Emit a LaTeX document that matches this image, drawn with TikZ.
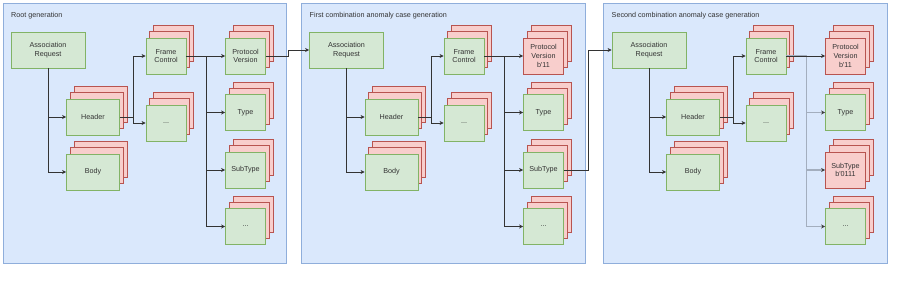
\documentclass[tikz,border=0pt]{standalone}
\usepackage{fontspec}
\setmainfont{Liberation Sans}
\usepackage{xcolor}
\usetikzlibrary{arrows.meta, shadows}

\definecolor{panelfill}{HTML}{DAE8FC}
\definecolor{panelline}{HTML}{8FAEDB}
\definecolor{okfill}{HTML}{D5E8D4}
\definecolor{okline}{HTML}{82B366}
\definecolor{badfill}{HTML}{F8CECC}
\definecolor{badline}{HTML}{B85450}
\definecolor{txt}{HTML}{333333}
\definecolor{trunk}{HTML}{A3AEBE}

\begin{document}
\begin{tikzpicture}[
  x=1pt, y=-1pt,
  font=\fontsize{7.2}{8.6}\selectfont, text=txt,
  panel/.style={draw=panelline, fill=panelfill, line width=0.8pt},
  ptitle/.style={anchor=west, inner sep=0pt},
  field/.style={rectangle, draw=okline, fill=okfill, line width=0.8pt,
                align=center, minimum width=40pt, minimum height=36pt,
                inner sep=1pt},
  wide/.style={field, minimum width=74pt},
  mid/.style={field, minimum width=53pt},
  stack/.style={
    general shadow={shadow scale=1, shadow xshift=7.4pt, shadow yshift=12.4pt,
                    opacity=1, fill=badfill, draw=badline},
    general shadow={shadow scale=1, shadow xshift=3.7pt, shadow yshift=6.2pt,
                    opacity=1, fill=badfill, draw=badline}},
  mutated/.style={draw=badline, fill=badfill},
  arr/.style={-{Stealth[length=4pt, width=4pt, inset=1.2pt]}, line width=0.7pt,
              draw=black!80},
  faint/.style={-{Stealth[length=4pt, width=4pt, inset=1.2pt, color=black!75]},
                line width=1.2pt, draw=trunk}
]
\useasboundingbox (0,0) rectangle (902,298);

% ----- Root generation -----
\begin{scope}
\draw[panel] (3,3) rectangle (286.5,263.5);
\node[ptitle] (t1) at (11,16) {Root generation};

\node[wide] (ar1) at (48,50) {Association\\Request};
\node[mid, stack] (hd1) at (93,117) {Header};
\node[mid, stack] (bd1) at (93,172) {Body};
\node[field, stack] (fc1) at (166,56) {Frame\\Control};
\node[field, stack] (fd1) at (166,123) {...};
\node[field, stack] (pv1) at (245.5,56) {Protocol\\Version};
\node[field, stack] (ty1) at (245.5,112.5) {Type};
\node[field, stack] (st1) at (245.5,170) {SubType};
\node[field, stack] (sd1) at (245.5,226.5) {...};
\end{scope}

% ----- First combination -----
\begin{scope}[xshift=298.5pt]
\draw[panel] (3,3) rectangle (286.5,263.5);
\node[ptitle] (t2) at (11,16) {First combination anomaly case generation};

\node[wide] (ar2) at (48,50) {Association\\Request};
\node[mid, stack] (hd2) at (93,117) {Header};
\node[mid, stack] (bd2) at (93,172) {Body};
\node[field, stack] (fc2) at (165.5,56) {Frame\\Control};
\node[field, stack] (fd2) at (165.5,123) {...};
\node[field, stack, mutated] (pv2) at (245,56)
  {Protocol\\Version\\b\textquotesingle 11};
\node[field, stack] (ty2) at (245,112.5) {Type};
\node[field, stack] (st2) at (245,170) {SubType};
\node[field, stack] (sd2) at (245,226.5) {...};
\end{scope}

% ----- Second combination -----
\begin{scope}[xshift=600.5pt]
\draw[panel] (3,3) rectangle (286.5,263.5);
\node[ptitle] (t3) at (11,16) {Second combination anomaly case generation};

\node[wide] (ar3) at (48.5,50) {Association\\Request};
\node[mid, stack] (hd3) at (92.5,117) {Header};
\node[mid, stack] (bd3) at (92.5,172) {Body};
\node[field, stack] (fc3) at (165.5,56) {Frame\\Control};
\node[field, stack] (fd3) at (165.5,123) {...};
\node[field, stack, mutated] (pv3) at (245,56)
  {Protocol\\Version\\b\textquotesingle 11};
\node[field, stack] (ty3) at (245,112.5) {Type};
\node[field, stack, mutated] (st3) at (245,170)
  {SubType\\b\textquotesingle 0111};
\node[field, stack] (sd3) at (245,226.5) {...};
\end{scope}

% ----- arrows -----
\draw[arr] (ar1.south) |- (hd1.west);
\draw[arr] (ar1.south) |- (bd1.west);
\draw[arr] (hd1.east) -- ++(13.5,0) |- (fc1.west);
\draw[arr] (hd1.east) -- ++(13.5,0) |- (fd1.west);
\draw[arr] (fc1.east) -- (pv1.west);
\draw[arr] (fc1.east) -- ++(20,0) |- (ty1.west);
\draw[arr] (fc1.east) -- ++(20,0) |- (st1.west);
\draw[arr] (fc1.east) -- ++(20,0) |- (sd1.west);
\draw[arr] (pv1.east) -- ++(22.5,0) |- (ar2.west);

\draw[arr] (ar2.south) |- (hd2.west);
\draw[arr] (ar2.south) |- (bd2.west);
\draw[arr] (hd2.east) -- ++(13,0) |- (fc2.west);
\draw[arr] (hd2.east) -- ++(13,0) |- (fd2.west);
\draw[arr] (fc2.east) -- (pv2.west);
\draw[arr] (fc2.east) -- ++(20,0) |- (ty2.west);
\draw[arr] (fc2.east) -- ++(20,0) |- (st2.west);
\draw[arr] (fc2.east) -- ++(20,0) |- (sd2.west);
\draw[arr] (st2.east) -- ++(24.5,0) |- (ar3.west);

\draw[arr] (ar3.south) |- (hd3.west);
\draw[arr] (ar3.south) |- (bd3.west);
\draw[arr] (hd3.east) -- ++(13.5,0) |- (fc3.west);
\draw[arr] (hd3.east) -- ++(13.5,0) |- (fd3.west);
\draw[faint] (fc3.east) -- ++(20,0) |- (sd3.west);
\draw[faint] (fc3.east) -- ++(20,0) |- (ty3.west);
\draw[faint] (fc3.east) -- ++(20,0) |- (st3.west);
\draw[arr] (fc3.east) -- (pv3.west);

\end{tikzpicture}
\end{document}
